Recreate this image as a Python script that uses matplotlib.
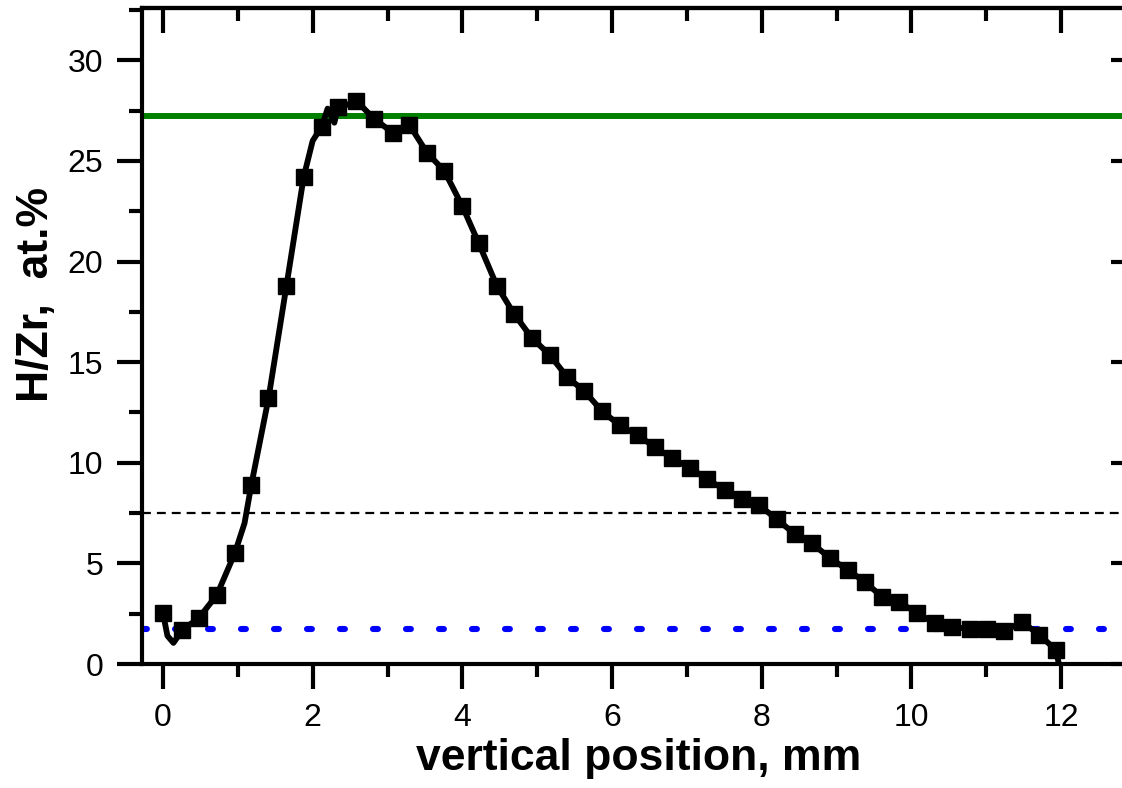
import matplotlib
matplotlib.use("Agg")
import matplotlib.pyplot as plt

plt.rcParams['font.family'] = ['Liberation Sans', 'DejaVu Sans']

# marker positions (mm) and H/Zr values (at.%)
x_mark = [0.00, 0.26, 0.48, 0.72, 0.96, 1.18, 1.41, 1.65, 1.88, 2.12, 2.34, 2.58,
          2.82, 3.07, 3.29, 3.53, 3.76, 4.00, 4.22, 4.46, 4.69, 4.93, 5.17, 5.40,
          5.63, 5.87, 6.10, 6.34, 6.57, 6.80, 7.04, 7.27, 7.51, 7.74, 7.96, 8.20,
          8.44, 8.67, 8.91, 9.15, 9.38, 9.61, 9.84, 10.07, 10.31, 10.54, 10.78,
          11.01, 11.24, 11.48, 11.71, 11.93]
y_mark = [2.53, 1.69, 2.29, 3.43, 5.51, 8.89, 13.2, 18.8, 24.2, 26.7, 27.7, 28.0,
          27.1, 26.4, 26.8, 25.4, 24.5, 22.75, 20.9, 18.8, 17.4, 16.2, 15.35, 14.26,
          13.56, 12.55, 11.87, 11.38, 10.78, 10.23, 9.74, 9.19, 8.64, 8.2, 7.9, 7.2,
          6.46, 6.0, 5.27, 4.67, 4.07, 3.33, 3.08, 2.53, 2.04, 1.84, 1.74,
          1.74, 1.64, 2.09, 1.44, 0.7]

# extra points of the measured profile between markers
x_extra = [0.06, 0.14, 1.09, 2.00, 2.20, 2.29, 2.47, 11.97]
y_extra = [1.4, 1.05, 7.0, 26.0, 27.6, 26.9, 27.8, 0.0]

h_green = 27.25
h_dash = 7.5
h_blue = 1.75

x_ticks = [0, 2, 4, 6, 8, 10, 12]
y_ticks = [0, 5, 10, 15, 20, 25, 30]

pts = sorted(zip(x_mark + x_extra, y_mark + y_extra))
x_line = [p[0] for p in pts]
y_line = [p[1] for p in pts]

fig = plt.figure(figsize=(11.22, 7.88), dpi=100)
ax = fig.add_axes([142 / 1122, 124 / 788, 994 / 1122, 656 / 788])

ax.axhline(h_green, color='#008000', lw=4.3, zorder=2)
ax.axhline(h_dash, color='black', lw=1.6, dashes=(4, 2.7), zorder=2)
ax.axhline(h_blue, color='#0000ff', lw=4.4, dashes=(0.8, 4.6),
           dash_capstyle='round', zorder=2)

ax.plot(x_line, y_line, color='black', lw=4.2, zorder=3)
ax.plot(x_mark, y_mark, 's', color='black', markersize=11.5, zorder=4)

ax.set_xlim(-0.28, 13.0)
ax.set_ylim(0, 32.6)
ax.set_xticks(x_ticks)
ax.set_yticks(y_ticks)
ax.set_xticks([1, 3, 5, 7, 9, 11], minor=True)
ax.set_yticks([2.5, 7.5, 12.5, 17.5, 22.5, 27.5, 32.5], minor=True)

for s in ax.spines.values():
    s.set_linewidth(3)
ax.tick_params(which='major', direction='out', length=18, width=3, labelsize=23, pad=10)
ax.tick_params(which='minor', direction='out', length=9.5, width=3)

# mirrored ticks pointing inwards on top and right
top = ax.secondary_xaxis('top')
top.set_xticks(x_ticks)
top.set_xticks([1, 3, 5, 7, 9, 11], minor=True)
top.tick_params(which='major', direction='in', length=18, width=3, labeltop=False)
top.tick_params(which='minor', direction='in', length=9.5, width=3)
top.spines['top'].set_linewidth(3)
right = ax.secondary_yaxis('right')
right.set_yticks(y_ticks)
right.set_yticks([2.5, 7.5, 12.5, 17.5, 22.5, 27.5, 32.5], minor=True)
right.tick_params(which='major', direction='in', length=18, width=3, labelright=False)
right.tick_params(which='minor', direction='in', length=9.5, width=3)
right.spines['right'].set_linewidth(3)

ax.set_xlabel('vertical position, mm', fontsize=32, fontweight='bold', labelpad=4)
ax.set_ylabel('H/Zr,  at.%', fontsize=32, fontweight='bold', ha='center', va='center')
ax.yaxis.set_label_coords(-0.106, 0.5625)

fig.savefig('out.png', dpi=100)
